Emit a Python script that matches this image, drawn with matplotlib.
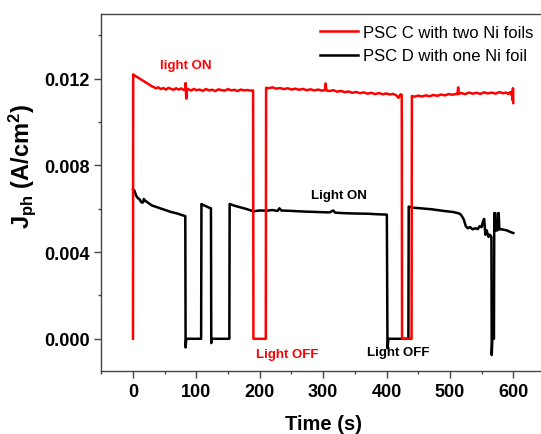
import matplotlib
matplotlib.use("Agg")
import matplotlib.pyplot as plt
from matplotlib.ticker import MultipleLocator, FormatStrFormatter

plt.rcParams['font.family'] = ['Liberation Sans', 'DejaVu Sans']
plt.rcParams['mathtext.default'] = 'regular'

# PSC C with two Ni foils (red): (time s, Jph A/cm2)
red_points = [
    (0, 0.0), (0.3, 0.01220), (3, 0.01214), (8, 0.01205), (12, 0.01198), (16, 0.01190), (20, 0.01183),
    (24, 0.01176), (28, 0.01168), (32, 0.01162), (36, 0.01156), (40, 0.01160), (44, 0.01152), (48, 0.01157),
    (52, 0.01150), (56, 0.01158), (60, 0.01153), (64, 0.01149), (68, 0.01156), (72, 0.01150), (76, 0.01155),
    (80, 0.01148), (82, 0.01152), (83, 0.01180), (84, 0.01108), (85, 0.01155), (88, 0.01150), (92, 0.01146),
    (96, 0.01153), (100, 0.01147), (105, 0.01150), (110, 0.01144), (115, 0.01152), (120, 0.01146),
    (125, 0.01149), (130, 0.01143), (135, 0.01151), (140, 0.01147), (145, 0.01145), (150, 0.01152),
    (155, 0.01146), (160, 0.01149), (165, 0.01143), (170, 0.01150), (175, 0.01146), (180, 0.01148),
    (185, 0.01145), (189.5, 0.01146), (190, 0.0), (209.5, 0.0), (210, 0.01158), (214, 0.01156),
    (220, 0.01160), (226, 0.01154), (232, 0.01157), (238, 0.01152), (244, 0.01156), (250, 0.01150),
    (256, 0.01154), (262, 0.01149), (268, 0.01153), (274, 0.01147), (280, 0.01151), (286, 0.01146),
    (292, 0.01150), (298, 0.01145), (303, 0.01148), (304, 0.01178), (305, 0.01146), (310, 0.01143),
    (316, 0.01147), (322, 0.01140), (328, 0.01144), (334, 0.01138), (340, 0.01141), (346, 0.01135),
    (352, 0.01139), (358, 0.01133), (364, 0.01137), (370, 0.01131), (376, 0.01135), (382, 0.01129),
    (388, 0.01134), (394, 0.01128), (400, 0.01132), (405, 0.01127), (410, 0.01130), (415, 0.01124),
    (419, 0.01112), (422, 0.01128), (424, 0.01125), (424.5, 0.0), (439.5, 0.0), (440, 0.01120),
    (444, 0.01117), (450, 0.01122), (456, 0.01118), (462, 0.01123), (468, 0.01119), (474, 0.01125),
    (480, 0.01121), (486, 0.01127), (492, 0.01123), (498, 0.01129), (504, 0.01126), (510, 0.01130),
    (512, 0.01128), (513, 0.01160), (514, 0.01130), (518, 0.01134), (524, 0.01129), (530, 0.01136),
    (536, 0.01131), (542, 0.01135), (548, 0.01130), (554, 0.01137), (560, 0.01132), (566, 0.01136),
    (572, 0.01131), (578, 0.01138), (584, 0.01133), (588, 0.01136), (592, 0.01130), (595, 0.01138),
    (597, 0.01125), (598, 0.01140), (599, 0.01100), (599.5, 0.01156), (600, 0.01088),
]

# PSC D with one Ni foil (black): (time s, Jph A/cm2)
black_points = [
    (0, 0.00690), (2, 0.00685), (5, 0.00660), (8, 0.00648), (10, 0.00645), (12, 0.00635), (14, 0.00628),
    (16, 0.00630), (17, 0.00645), (19, 0.00638), (25, 0.00625), (30, 0.00615), (40, 0.00605), (50, 0.00595),
    (60, 0.00585), (70, 0.00578), (78, 0.00570), (82.5, 0.00566), (83, -0.00040), (84, 0.0), (107.5, 0.0),
    (108, 0.00622), (110, 0.00618), (115, 0.00612), (120, 0.00605), (123, 0.00602), (123.5, -0.00020),
    (124.5, 0.0), (152, 0.0), (152.5, 0.00622), (160, 0.00614), (170, 0.00606), (180, 0.00598),
    (190, 0.00588), (200, 0.00592), (211, 0.00591), (220, 0.00594), (228, 0.00590), (231, 0.00602),
    (234, 0.00592), (250, 0.00590), (270, 0.00587), (290, 0.00585), (310, 0.00583), (316, 0.00592),
    (319, 0.00582), (330, 0.00580), (350, 0.00578), (370, 0.00577), (390, 0.00574), (400.5, 0.00573),
    (401.5, -0.00044), (403, 0.0), (434.5, 0.0), (435, 0.00610), (440, 0.00605), (450, 0.00603),
    (470, 0.00598), (490, 0.00590), (505, 0.00585), (515, 0.00578), (518, 0.00570), (522, 0.00550),
    (525, 0.00520), (528, 0.00510), (532, 0.00515), (536, 0.00505), (540, 0.00510), (544, 0.00506),
    (547, 0.00520), (550, 0.00515), (552, 0.00540), (554, 0.00553), (556, 0.00480), (558, 0.00500),
    (561, 0.00470), (563, 0.00480), (565.5, 0.00470), (566, -0.00075), (567, 0.0), (569.5, 0.0),
    (570, 0.00580), (571.5, 0.00580), (572, 0.00500), (575, 0.00500), (576, 0.00580), (577, 0.00580),
    (578, 0.00505), (582, 0.00505), (590, 0.00500), (596, 0.00492), (600, 0.00488),
]

labels = ["PSC C with two Ni foils", "PSC D with one Ni foil"]
x_ticks = [0, 100, 200, 300, 400, 500, 600]
y_ticks = [0.000, 0.004, 0.008, 0.012]

red_t, red_v = zip(*red_points)
blk_t, blk_v = zip(*black_points)

fig = plt.figure(figsize=(5.41, 4.35), dpi=100)
ax = fig.add_axes([0.18725, 0.14414, 0.8201, 0.8221])

lb, = ax.plot(blk_t, blk_v, color='black', lw=1.8, label=labels[1])
lr, = ax.plot(red_t, red_v, color='#ff0000', lw=1.8, label=labels[0])

ax.set_xlim(-50, 650)
ax.set_ylim(-0.0015, 0.015)
ax.set_xticks(x_ticks)
ax.set_yticks(y_ticks)
ax.xaxis.set_minor_locator(MultipleLocator(50))
ax.yaxis.set_minor_locator(MultipleLocator(0.002))
ax.yaxis.set_major_formatter(FormatStrFormatter('%.3f'))

for s in ax.spines.values():
    s.set_color('#444444')
    s.set_linewidth(1.0)
ax.tick_params(which='major', direction='out', length=5, width=1.0, color='#444444', pad=3.5,
               labelsize=13, top=False, right=False)
ax.tick_params(which='minor', direction='out', length=2.5, width=1.0, color='#444444', top=False, right=False)
for lab in ax.get_xticklabels() + ax.get_yticklabels():
    lab.set_fontweight('bold')

ax.set_xlabel('Time (s)', fontsize=14.5, fontweight='bold', labelpad=10)
ax.set_ylabel(r'J$_{ph}$ (A/cm$^{2}$)', fontsize=17, fontweight='bold')
ax.yaxis.set_label_coords(-0.143, 0.577)

ax.text(84, 0.01262, 'light ON', color='#ff0000', fontsize=9.5, fontweight='bold', ha='center', va='center')
ax.text(325, 0.00662, 'Light ON', color='black', fontsize=9.5, fontweight='bold', ha='center', va='center')
ax.text(243, -0.00068, 'Light OFF', color='#ff0000', fontsize=9.5, fontweight='bold', ha='center', va='center')
ax.text(418, -0.00061, 'Light OFF', color='black', fontsize=9.5, fontweight='bold', ha='center', va='center')

ax.legend(handles=[lr, lb], labels=labels, loc='upper left', bbox_to_anchor=(320 / 541, 1 - 26 / 435),
          bbox_transform=fig.transFigure, frameon=False, fontsize=12, handlelength=2.3,
          handletextpad=0.3, borderpad=0, borderaxespad=0, labelspacing=0.5)

fig.savefig('out.png', dpi=100)
